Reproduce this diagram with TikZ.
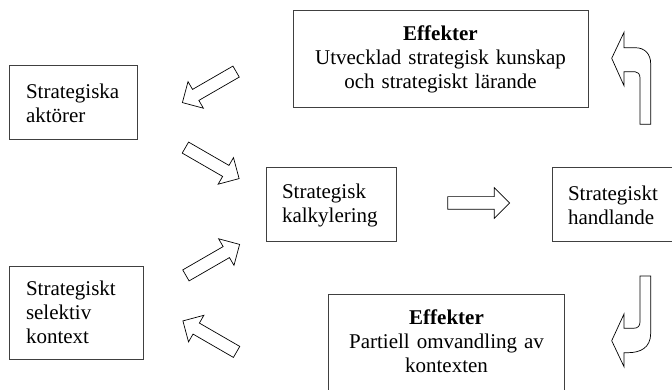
\documentclass[tikz,border=0pt]{standalone}
\usepackage{fontspec}
\setmainfont{Liberation Serif}
\usepackage{tikz}
\usetikzlibrary{shapes, shapes.arrows, positioning}

\begin{document}
\begin{tikzpicture}[
  x=1pt, y=-1pt,
  mybox/.style={
    draw=black!75,
    line width=1pt,
    rectangle,
    inner xsep=#1,
    font=\fontsize{21pt}{24pt}\selectfont
    },
  leftbox/.style={
    mybox=17pt,
    align=left
    },
  effbox/.style={
    mybox=17pt,
    align=center
    },
  blockarrow/.style={
    draw,
    line width=0.7pt,
    single arrow,
    single arrow head extend=9pt,
    single arrow head indent=0pt,
    inner xsep=0pt,
    inner ysep=6pt,
    minimum height=62pt,
    minimum width=30pt
    },
  bentarrow/.style={
    draw,
    line width=0.7pt,
    line join=miter
    }
]

\clip (0,0) rectangle (672,390);

\node[leftbox, text width=94pt, minimum height=74pt] (aktorer) at (73,103)
  {Strategiska\\aktörer};

\node[leftbox, text width=100pt, minimum height=93pt] (kontext) at (76,312.5)
  {Strategiskt\\selektiv\\kontext};

\node[leftbox, mybox=16pt, text width=98pt, minimum height=74pt] (kalkyl) at (331,205)
  {Strategisk\\kalkylering};

\node[leftbox, mybox=16pt, text width=98pt, minimum height=74pt] (handl) at (617,205)
  {Strategiskt\\handlande};

\node[effbox, text width=261pt, minimum height=97pt] (effupp) at (440.5,59.5)
  {\textbf{Effekter}\\Utvecklad strategisk kunskap\\och strategiskt lärande};

\node[effbox, draw=none, text width=201pt, inner ysep=15.7pt, anchor=north] (effner) at (446.5,294)
  {\textbf{Effekter}\\Partiell omvandling av\\kontexten};
\draw[draw=black!75, line width=1pt]
  ([yshift=-30pt]effner.south west) -- (effner.north west)
  -- (effner.north east) -- ([yshift=-30pt]effner.south east);

\node[blockarrow, rotate=210] (pilA) at (212,85.5) {};
\node[blockarrow, rotate=-30] (pilB) at (209.5,161.5) {};
\node[blockarrow, rotate=30] (pilC) at (210,261.5) {};
\node[blockarrow, rotate=150] (pilD) at (212.5,338) {};
\node[blockarrow] (pilH) at (475.5,203) {};

\draw[bentarrow]
  (611.7,58.3) -- (624,32.3) -- (624,47.7) -- (635,47.7)
  .. controls (645,47.7) and (650.7,54) .. (650.7,64)
  -- (650.7,124.3) -- (640,124.3) -- (640,78)
  .. controls (640,74) and (638,71.7) .. (635,71.7)
  -- (624,71.7) -- (624,85.7) -- cycle;

\draw[bentarrow]
  (640,276) -- (650.7,276) -- (650.7,333.3)
  .. controls (650.7,348) and (640,352.7) .. (628,352.7)
  -- (624,352.7) -- (624,366.7) -- (611.7,340.7) -- (624,314)
  -- (624,328.3) -- (633.3,328.3)
  .. controls (638,328.3) and (640,326) .. (640,321.7) -- cycle;

\end{tikzpicture}
\end{document}
